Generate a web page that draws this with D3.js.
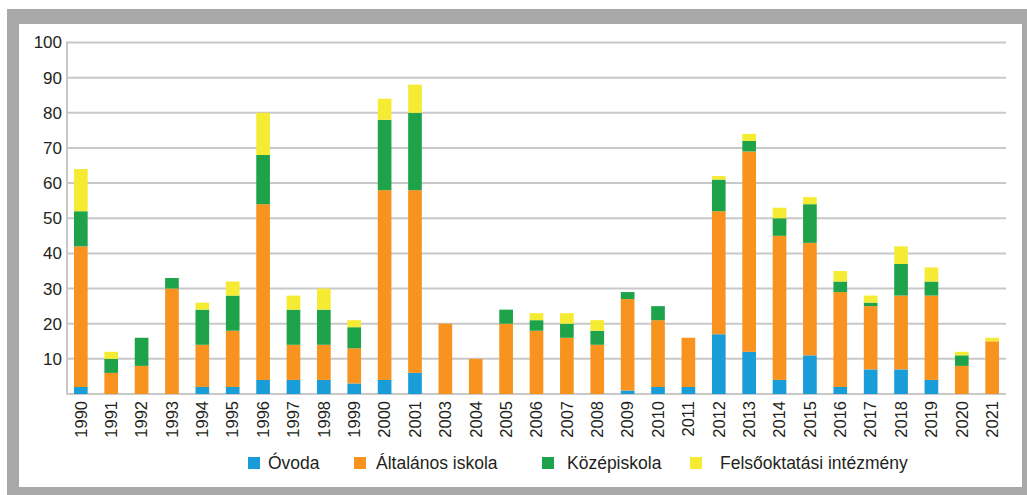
<!DOCTYPE html>
<html>
<head>
<meta charset="utf-8">
<script src="https://cdn.jsdelivr.net/npm/d3@7"></script>
<style>
  html, body { margin: 0; padding: 0; background: #fff; }
  svg { display: block; font-family: "Liberation Sans", Arial, sans-serif; }
</style>
</head>
<body>
<svg id="chart"></svg>
<script>
var years = ["1990","1991","1992","1993","1994","1995","1996","1997","1998","1999","2000","2001",
  "2003","2004","2005","2006","2007","2008","2009","2010","2011","2012","2013","2014","2015",
  "2016","2017","2018","2019","2020","2021"];
var ovoda     = [2,0,0,0,2,2,4,4,4,3,4,6, 0,0,0,0,0,0,1,2,2,17,12,4,11,2,7,7,4,0,0];
var altalanos = [40,6,8,30,12,16,50,10,10,10,54,52, 20,10,20,18,16,14,26,19,14,35,57,41,32,27,18,21,24,8,15];
var kozep     = [10,4,8,3,10,10,14,10,10,6,20,22, 0,0,4,3,4,4,2,4,0,9,3,5,11,3,1,9,4,3,0];
var felso     = [12,2,0,0,2,4,12,4,6,2,6,8, 0,0,0,2,3,3,0,0,0,1,2,3,2,3,2,5,4,1,1];
var seriesNames = ["Óvoda", "Általános iskola", "Középiskola", "Felsőoktatási intézmény"];
var seriesColors = ["#199dd9", "#f7931e", "#1ea34b", "#f6eb33"];
var yTicks = [10,20,30,40,50,60,70,80,90,100];

function draw_chart(element) {
  var W = 1027, H = 495;
  var svg = d3.select(element).attr("width", W).attr("height", H);

  // grey frame and white panel
  svg.append("rect").attr("x", 7).attr("y", 9).attr("width", W).attr("height", H)
    .attr("fill", "#a8a8a8");
  svg.append("rect").attr("x", 19).attr("y", 24).attr("width", 1003).attr("height", 463)
    .attr("fill", "#fff");

  var rows = years.map(function(y, i) {
    return {year: y, s0: ovoda[i], s1: altalanos[i], s2: kozep[i], s3: felso[i]};
  });
  var stacked = d3.stack().keys(["s0", "s1", "s2", "s3"])(rows);

  var plotLeft = 67, plotRight = 1006, plotTop = 42.5, plotBottom = 394;

  var x = d3.scaleBand().domain(years).range([plotLeft, plotRight])
    .paddingInner(0.55).paddingOuter(0.23);
  var y = d3.scaleLinear().domain([0, 100]).range([plotBottom, plotTop]);

  // gridlines
  svg.append("g").selectAll("line").data(yTicks).enter().append("line")
    .attr("x1", plotLeft).attr("x2", plotRight)
    .attr("y1", function(d) { return y(d); }).attr("y2", function(d) { return y(d); })
    .attr("stroke", "#c8c8c8").attr("stroke-width", 2);

  // axis lines
  svg.append("line").attr("x1", plotLeft).attr("x2", plotLeft)
    .attr("y1", y(100) - 1).attr("y2", y(0) + 1)
    .attr("stroke", "#c8c8c8").attr("stroke-width", 2);
  svg.append("line").attr("x1", plotLeft).attr("x2", plotRight)
    .attr("y1", y(0)).attr("y2", y(0))
    .attr("stroke", "#c8c8c8").attr("stroke-width", 2);

  // y labels
  var ya = svg.append("g").attr("transform", "translate(" + plotLeft + ",0)")
    .call(d3.axisLeft(y).tickValues(yTicks).tickSize(0).tickPadding(5));
  ya.select(".domain").remove();
  ya.selectAll("text").attr("font-size", 17).attr("fill", "#231f20")
    .attr("font-family", "Liberation Sans, Arial, sans-serif");

  // bars
  svg.append("g").selectAll("g").data(stacked).enter().append("g")
    .attr("fill", function(d, i) { return seriesColors[i]; })
    .selectAll("rect").data(function(d) { return d; }).enter().append("rect")
    .attr("x", function(d) { return x(d.data.year); })
    .attr("width", x.bandwidth())
    .attr("y", function(d) { return y(d[1]); })
    .attr("height", function(d) { return y(d[0]) - y(d[1]); });

  // x labels
  var xa = svg.append("g").attr("transform", "translate(0," + plotBottom + ")")
    .call(d3.axisBottom(x).tickSize(0).tickPadding(0));
  xa.select(".domain").remove();
  xa.selectAll("text")
    .attr("font-size", 16.5).attr("fill", "#231f20")
    .attr("font-family", "Liberation Sans, Arial, sans-serif")
    .attr("text-anchor", "end")
    .attr("transform", "rotate(-90)")
    .attr("x", -7).attr("y", 0).attr("dy", "0.35em");

  // legend
  var legendX = [248, 354, 542, 690];
  var legendTextX = [20, 22, 25, 30];
  var lg = svg.append("g").attr("transform", "translate(0,463)");
  var item = lg.selectAll("g").data(seriesNames).enter().append("g")
    .attr("transform", function(d, i) { return "translate(" + legendX[i] + ",0)"; });
  item.append("rect").attr("x", 0).attr("y", -6).attr("width", 12).attr("height", 12)
    .attr("fill", function(d, i) { return seriesColors[i]; });
  item.append("text").attr("x", function(d, i) { return legendTextX[i]; }).attr("dy", "0.35em")
    .attr("font-size", 17.5).attr("fill", "#231f20")
    .text(function(d) { return d; });
}

draw_chart("#chart");
</script>
</body>
</html>
